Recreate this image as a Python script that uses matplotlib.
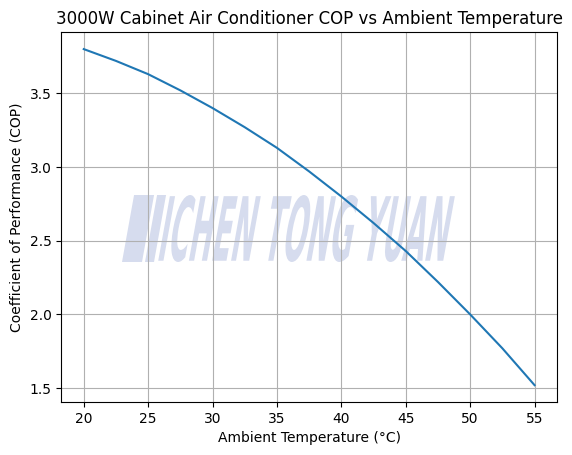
import matplotlib
matplotlib.use("Agg")
import matplotlib.pyplot as plt
from matplotlib.textpath import TextPath
from matplotlib.patches import PathPatch, Polygon
from matplotlib.font_manager import FontProperties
from matplotlib.transforms import Affine2D

# COP values
temps = [20, 22.5, 25, 27.5, 30, 32.5, 35, 37.5, 40, 42.5, 45, 47.5, 50, 52.5, 55]
cop = [3.80, 3.72, 3.63, 3.52, 3.40, 3.27, 3.13, 2.97, 2.80, 2.62, 2.43, 2.22, 2.00, 1.77, 1.52]

title = "3000W Cabinet Air Conditioner COP vs Ambient Temperature"
mark_text = "ICHEN TONG YUAN"
mark_color = "#d6dcee"

fig, ax = plt.subplots(figsize=(5.72, 4.55), dpi=100)
fig.subplots_adjust(left=0.107, right=0.974, top=0.929, bottom=0.1165)

ax.plot(temps, cop, color="#1f77b4", linewidth=1.5, zorder=3)
ax.set_title(title)
ax.set_xlabel("Ambient Temperature (°C)")
ax.set_ylabel("Coefficient of Performance (COP)")
ax.grid(True)

# watermark, placed in image pixel space (top-left origin)
H_IMG = 455
px = Affine2D().scale(1 / 100.0) + fig.dpi_scale_trans
slant = 0.18

fp = FontProperties(family="DejaVu Sans", weight="bold", stretch="condensed")
tp = TextPath((0, 0), mark_text, size=1, prop=fp)
ext = tp.get_extents()
x0, y_bot, w, h = 158, 262, 285, 67
tr = (Affine2D().translate(-ext.x0, -ext.y0)
      .scale(w / ext.width, h / ext.height)
      .skew(0.1782, 0)
      .translate(x0, H_IMG - y_bot))
ax.add_patch(PathPatch(tp, transform=tr + px, facecolor=mark_color,
                       edgecolor="none", zorder=1, clip_on=False))

# logo bars in front of the text
for bx, bw in [(122, 20), (145, 9)]:
    yb = H_IMG - y_bot
    yt = yb + h
    ax.add_patch(Polygon([(bx, yb), (bx + bw, yb), (bx + bw + slant * h, yt),
                          (bx + slant * h, yt)], closed=True, transform=px,
                         facecolor=mark_color, edgecolor="none", zorder=1,
                         clip_on=False))

fig.savefig("out.png", dpi=100)
